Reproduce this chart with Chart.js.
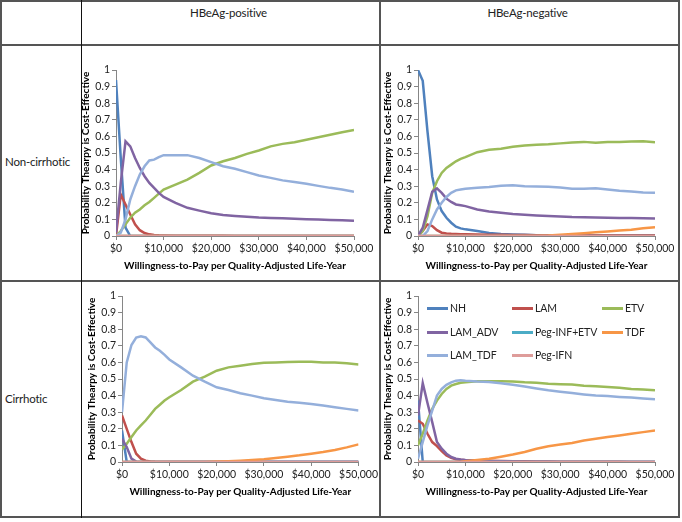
<!DOCTYPE html>
<html>
<head>
<meta charset="utf-8">
<script src="https://cdn.jsdelivr.net/npm/chart.js@4.4.1/dist/chart.umd.min.js"></script>
<style>
  body { margin: 0; background: #fff; font-family: Lato, "Noto Sans", sans-serif; }
  #page { position: relative; width: 682px; height: 522px; overflow: hidden; }
  .rule { position: absolute; background: #555; }
  .head { position: absolute; top: 6px; font-size: 11.5px; letter-spacing: -0.2px; color: #222; text-align: center; }
  .rowlab { position: absolute; left: 5px; font-size: 11.5px; letter-spacing: -0.2px; color: #222; line-height: 16px; }
  canvas { position: absolute; }
  .leg { position: absolute; height: 16px; line-height: 16px; font-size: 10.5px; letter-spacing: -0.1px; color: #222; white-space: nowrap; }
  .leg span.swatch { display: inline-block; width: 21px; height: 3px; vertical-align: middle; margin-right: 2px; margin-top: -2px; }
</style>
</head>
<body>
<div id="page">
  <div class="rule" style="left:0;top:0;width:680px;height:2px"></div>
  <div class="rule" style="left:0;top:516px;width:680px;height:2px"></div>
  <div class="rule" style="left:0;top:0;width:2px;height:518px"></div>
  <div class="rule" style="left:678px;top:0;width:2px;height:518px"></div>
  <div class="rule" style="left:0;top:44px;width:680px;height:2px"></div>
  <div class="rule" style="left:0;top:280px;width:680px;height:2px"></div>
  <div class="rule" style="left:81px;top:0;width:1px;height:518px;background:#111"></div>
  <div class="rule" style="left:379px;top:0;width:2px;height:518px"></div>

  <div class="head" style="left:81px;width:295px">HBeAg-positive</div>
  <div class="head" style="left:380px;width:295px">HBeAg-negative</div>
  <div class="rowlab" style="top:154px">Non-cirrhotic</div>
  <div class="rowlab" style="top:391px">Cirrhotic</div>

  <canvas id="posNonChart" width="303" height="231" style="left:76px;top:46px"></canvas>
  <canvas id="negNonChart" width="302" height="231" style="left:378px;top:46px"></canvas>
  <canvas id="posCirChart" width="298" height="241" style="left:82px;top:279px"></canvas>
  <canvas id="negCirChart" width="302" height="241" style="left:378px;top:279px"></canvas>
  <div id="legendBox"></div>
</div>

<script>
// willingness-to-pay points ($ per QALY)
const wtp = [0, 1000, 2000, 3000, 4000, 5000, 6000, 7000, 8000, 9000, 10000, 12500, 15000, 17500, 20000,
  22500, 25000, 27500, 30000, 32500, 35000, 37500, 40000, 42500, 45000, 47500, 50000];
const xTickValues = [0, 10000, 20000, 30000, 40000, 50000];
const yTickValues = [0, 0.1, 0.2, 0.3, 0.4, 0.5, 0.6, 0.7, 0.8, 0.9, 1];

const seriesNames = ["NH", "LAM", "ETV", "LAM_ADV", "Peg-INF+ETV", "TDF", "LAM_TDF", "Peg-IFN"];
const seriesColors = ["#4F81BD", "#C0504D", "#9BBB59", "#8064A2", "#4BACC6", "#F79646", "#94AFDB", "#DE9C9A"];

// lines that sit on zero all the way
const flatZero = [0, 0, 0, 0, 0, 0, 0, 0, 0, 0, 0, 0, 0, 0, 0, 0, 0, 0, 0, 0, 0, 0, 0, 0, 0, 0, 0];

// HBeAg-positive, non-cirrhotic
const posNonNH = [0.94, 0.47, 0.05, 0, 0, 0, 0, 0, 0, 0, 0, 0, 0, 0, 0, 0, 0, 0, 0, 0, 0, 0, 0, 0, 0, 0, 0];
const posNonLAM = [0, 0.25, 0.19, 0.13, 0.07, 0.035, 0.018, 0.01, 0.006, 0.004, 0.003, 0.002, 0.002, 0.001, 0.001, 0.001, 0, 0, 0, 0, 0, 0, 0, 0, 0, 0, 0];
const posNonETV = [0, 0.03, 0.07, 0.11, 0.14, 0.16, 0.185, 0.205, 0.23, 0.255, 0.28, 0.31, 0.34, 0.38, 0.425, 0.45, 0.47, 0.495, 0.515, 0.54, 0.555, 0.565, 0.58, 0.595, 0.61, 0.625, 0.638];
const posNonADV = [0.02, 0.32, 0.57, 0.54, 0.47, 0.41, 0.36, 0.32, 0.29, 0.26, 0.235, 0.2, 0.17, 0.153, 0.137, 0.127, 0.121, 0.116, 0.111, 0.109, 0.107, 0.104, 0.101, 0.099, 0.097, 0.095, 0.092];
const posNonTDF = [0, 0, 0, 0, 0, 0, 0, 0, 0, 0, 0, 0, 0, 0, 0, 0, 0, 0, 0, 0, 0, 0, 0, 0, 0, 0, 0];
const posNonLAMTDF = [0, 0.02, 0.1, 0.22, 0.3, 0.37, 0.42, 0.455, 0.46, 0.475, 0.487, 0.487, 0.487, 0.47, 0.445, 0.42, 0.405, 0.385, 0.365, 0.35, 0.335, 0.325, 0.315, 0.302, 0.29, 0.28, 0.266];

// HBeAg-negative, non-cirrhotic
const negNonNH = [1, 0.935, 0.63, 0.36, 0.22, 0.15, 0.11, 0.08, 0.056, 0.046, 0.04, 0.03, 0.018, 0.012, 0.009, 0.007, 0.005, 0.004, 0.003, 0.002, 0.002, 0.001, 0.001, 0.001, 0, 0, 0];
const negNonLAM = [0, 0.03, 0.07, 0.06, 0.035, 0.02, 0.015, 0.013, 0.012, 0.011, 0.01, 0.009, 0.008, 0.007, 0.006, 0.006, 0.005, 0.005, 0.005, 0.005, 0.005, 0.005, 0.005, 0.005, 0.005, 0.005, 0.005];
const negNonETV = [0, 0.03, 0.12, 0.26, 0.33, 0.38, 0.41, 0.43, 0.45, 0.465, 0.475, 0.505, 0.52, 0.525, 0.537, 0.545, 0.55, 0.553, 0.558, 0.563, 0.567, 0.562, 0.566, 0.567, 0.57, 0.571, 0.565];
const negNonADV = [0, 0.05, 0.157, 0.267, 0.287, 0.26, 0.225, 0.205, 0.19, 0.185, 0.18, 0.16, 0.148, 0.14, 0.132, 0.128, 0.124, 0.12, 0.117, 0.114, 0.113, 0.112, 0.11, 0.109, 0.108, 0.107, 0.105];
const negNonTDF = [0, 0, 0, 0, 0, 0, 0, 0, 0, 0, 0, 0, 0, 0, 0, 0, 0, 0.003, 0.008, 0.012, 0.017, 0.022, 0.027, 0.033, 0.038, 0.047, 0.053];
const negNonLAMTDF = [0, 0, 0.03, 0.1, 0.16, 0.2, 0.235, 0.26, 0.275, 0.28, 0.285, 0.29, 0.295, 0.302, 0.305, 0.3, 0.298, 0.297, 0.292, 0.285, 0.285, 0.288, 0.28, 0.272, 0.268, 0.262, 0.26];

// HBeAg-positive, cirrhotic
const posCirNH = [0.19, 0, 0, 0, 0, 0, 0, 0, 0, 0, 0, 0, 0, 0, 0, 0, 0, 0, 0, 0, 0, 0, 0, 0, 0, 0, 0];
const posCirLAM = [0.28, 0.2, 0.12, 0.05, 0.02, 0.008, 0.003, 0.001, 0, 0, 0, 0, 0, 0, 0, 0, 0, 0, 0, 0, 0, 0, 0, 0, 0, 0, 0];
const posCirETV = [0.076, 0.11, 0.15, 0.19, 0.22, 0.25, 0.285, 0.32, 0.345, 0.37, 0.39, 0.434, 0.484, 0.514, 0.55, 0.57, 0.58, 0.59, 0.598, 0.6, 0.602, 0.604, 0.604, 0.6, 0.6, 0.595, 0.588];
const posCirADV = [0.14, 0.09, 0.02, 0.002, 0, 0, 0, 0, 0, 0, 0, 0, 0, 0, 0, 0, 0, 0, 0, 0, 0, 0, 0, 0, 0, 0, 0];
const posCirTDF = [0, 0, 0, 0, 0, 0, 0, 0, 0, 0, 0, 0, 0, 0, 0.003, 0.005, 0.008, 0.012, 0.017, 0.024, 0.032, 0.04, 0.05, 0.06, 0.072, 0.088, 0.106];
const posCirLAMTDF = [0.3, 0.6, 0.705, 0.75, 0.757, 0.75, 0.72, 0.69, 0.67, 0.645, 0.618, 0.57, 0.52, 0.484, 0.45, 0.434, 0.414, 0.4, 0.384, 0.373, 0.363, 0.357, 0.35, 0.34, 0.33, 0.32, 0.31];

// HBeAg-negative, cirrhotic
const negCirNH = [0.37, 0, 0, 0, 0, 0, 0, 0, 0, 0, 0, 0, 0, 0, 0, 0, 0, 0, 0, 0, 0, 0, 0, 0, 0, 0, 0];
const negCirLAM = [0.25, 0.23, 0.17, 0.12, 0.096, 0.065, 0.04, 0.025, 0.017, 0.013, 0.011, 0.009, 0.007, 0.006, 0.005, 0.004, 0.003, 0.003, 0.002, 0.002, 0.001, 0.001, 0.001, 0.001, 0, 0, 0];
const negCirETV = [0.1, 0.17, 0.25, 0.32, 0.37, 0.41, 0.44, 0.46, 0.47, 0.477, 0.48, 0.487, 0.486, 0.486, 0.485, 0.48, 0.477, 0.472, 0.469, 0.467, 0.46, 0.457, 0.452, 0.447, 0.44, 0.437, 0.432];
const negCirADV = [0.28, 0.475, 0.355, 0.24, 0.12, 0.08, 0.05, 0.03, 0.02, 0.015, 0.012, 0.008, 0.005, 0.004, 0.003, 0.002, 0.001, 0.001, 0, 0, 0, 0, 0, 0, 0, 0, 0];
const negCirTDF = [0, 0, 0, 0, 0, 0, 0, 0, 0, 0.002, 0.005, 0.012, 0.02, 0.032, 0.045, 0.06, 0.08, 0.095, 0.105, 0.115, 0.13, 0.14, 0.15, 0.16, 0.17, 0.18, 0.19];
const negCirLAMTDF = [0.02, 0.12, 0.22, 0.31, 0.4, 0.44, 0.465, 0.48, 0.49, 0.493, 0.49, 0.485, 0.482, 0.475, 0.466, 0.455, 0.443, 0.432, 0.423, 0.415, 0.407, 0.4, 0.397, 0.392, 0.388, 0.383, 0.378];

const FONT = "Lato";
const AXIS_GREY = "#868686";

function drawChart(id, series, pad) {
  const ctx = document.getElementById(id);
  new Chart(ctx, {
    type: "line",
    data: {
      datasets: series.map((vals, i) => ({
        label: seriesNames[i],
        data: wtp.map((x, j) => ({ x: x, y: vals[j] })),
        borderColor: seriesColors[i],
        backgroundColor: seriesColors[i],
        borderWidth: 2.5,
        pointRadius: 0,
        tension: 0,
        fill: false,
        // excel draws the last series on top
        order: seriesNames.length - i
      }))
    },
    options: {
      responsive: false,
      animation: false,
      events: [],
      layout: { autoPadding: false, padding: { left: 4, right: pad.right, top: pad.top, bottom: pad.bottom } },
      plugins: { legend: { display: false }, tooltip: { enabled: false } },
      scales: {
        x: {
          type: "linear",
          min: 0,
          max: 50000,
          afterBuildTicks: s => { s.ticks = xTickValues.map(v => ({ value: v })); },
          afterFit: s => { s.height = 40; },
          grid: { drawOnChartArea: false, tickLength: 4, color: AXIS_GREY },
          border: { color: AXIS_GREY, width: 1 },
          ticks: {
            padding: 2, maxRotation: 0, autoSkip: false, color: "#222",
            font: { family: FONT, size: 10.5 },
            callback: v => "$" + v.toLocaleString("en-US")
          },
          title: {
            display: true,
            text: "Willingness-to-Pay per Quality-Adjusted Life-Year",
            color: "#000",
            font: { family: FONT, size: 10, weight: "bold" },
            padding: { top: 0, bottom: 4 }
          }
        },
        y: {
          min: 0,
          max: 1,
          afterBuildTicks: s => { s.ticks = yTickValues.map(v => ({ value: v })); },
          afterFit: s => { s.width = 36; },
          grid: { drawOnChartArea: false, tickLength: 4, color: AXIS_GREY },
          border: { color: AXIS_GREY, width: 1 },
          ticks: {
            padding: 2, color: "#222",
            font: { family: FONT, size: 10.5 },
            callback: v => String(Math.round(v * 10) / 10)
          },
          title: {
            display: true,
            text: "Probability Thearpy is Cost-Effective",
            color: "#000",
            font: { family: FONT, size: 10, weight: "bold" },
            padding: { top: 0, bottom: 0 }
          }
        }
      }
    }
  });
}

drawChart("posNonChart", [posNonNH, posNonLAM, posNonETV, posNonADV, flatZero, posNonTDF, posNonLAMTDF, flatZero], { right: 25, top: 24, bottom: 1 });
drawChart("negNonChart", [negNonNH, negNonLAM, negNonETV, negNonADV, flatZero, negNonTDF, negNonLAMTDF, flatZero], { right: 25, top: 24, bottom: 1 });
drawChart("posCirChart", [posCirNH, posCirLAM, posCirETV, posCirADV, flatZero, posCirTDF, posCirLAMTDF, flatZero], { right: 20, top: 17, bottom: 18 });
drawChart("negCirChart", [negCirNH, negCirLAM, negCirETV, negCirADV, flatZero, negCirTDF, negCirLAMTDF, flatZero], { right: 25, top: 17, bottom: 18 });

// legend sits inside the bottom-right plot, 3 columns
const legendCols = [427, 512, 602];
const legendRows = [308, 332, 355];
const legendBox = document.getElementById("legendBox");
seriesNames.forEach((name, i) => {
  const item = document.createElement("div");
  item.className = "leg";
  item.style.left = legendCols[i % 3] + "px";
  item.style.top = (legendRows[Math.floor(i / 3)] - 8) + "px";
  item.innerHTML = '<span class="swatch" style="background:' + seriesColors[i] + '"></span>' + name;
  legendBox.appendChild(item);
});
</script>
</body>
</html>
